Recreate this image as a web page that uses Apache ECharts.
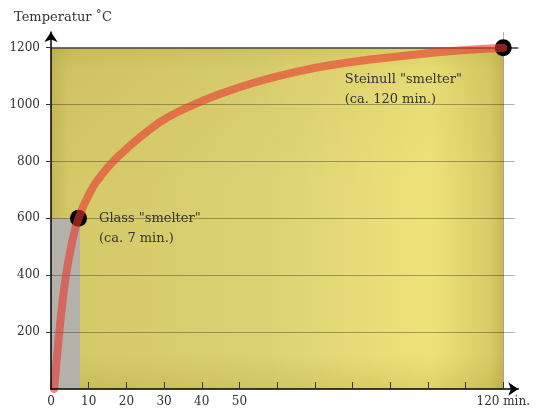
<!DOCTYPE html>
<html>
<head>
<meta charset="utf-8">
<script src="https://cdn.jsdelivr.net/npm/echarts@6/dist/echarts.min.js"></script>
<style>
    html, body { margin: 0; background: #fff; }
    #chart { width: 533px; height: 409px; }
</style>
</head>
<body>
<div id="chart"></div>
<script>
// temperaturkurve: minutter og grader
const curveMin = [0.8, 1.5, 2.2, 3.0, 4.0, 5.5, 7.3, 10.5, 13, 16.3, 20.5, 26, 31, 37.9, 45, 54.7, 65, 75, 86, 97, 108, 120];
const curveTemp = [0, 100, 200, 300, 400, 510, 600, 695, 745, 797, 850, 910, 955, 1000, 1038, 1080, 1115, 1140, 1160, 1176, 1190, 1200];

// smeltepunkter
const meltMin = [7.3, 120];
const meltTemp = [600, 1200];
const meltText = ['Glass "smelter"\n(ca. 7 min.)', 'Steinull "smelter"\n(ca. 120 min.)'];

// akser
const xLabels = [0, 10, 20, 30, 40, 50, 120];
const xTicks = [10, 20, 30, 40, 50, 60, 70, 80, 90, 100, 110, 120];
const yTicks = [200, 400, 600, 800, 1000, 1200];
const glassZone = [7.7, 600];
const plotEnd = [120, 1200];

(function () {
    let myChart = echarts.init(document.getElementById('chart'));
    let font = 'DejaVu Serif';

    let curve = curveMin.map((m, i) => [m, curveTemp[i]]);
    let labelPos = [
        { position: [29, -1] },
        { position: [-150, 30] }
    ];
    let dots = meltMin.map((m, i) => ({
        value: [m, meltTemp[i]],
        label: Object.assign({
            show: true,
            formatter: meltText[i],
            align: 'left',
            verticalAlign: 'top',
            fontFamily: font,
            fontSize: 13,
            lineHeight: 20,
            color: '#333'
        }, labelPos[i])
    }));

    let gridLines = yTicks.filter(v => v < plotEnd[1]).map(v => [
        { coord: [0, v] }, { coord: [123, v] }
    ]);
    gridLines.push([{ coord: [0, plotEnd[1]], lineStyle: { color: '#444', width: 1.5 } }, { coord: [124, plotEnd[1]] }]);
    gridLines.push([{ coord: [plotEnd[0], 0] }, { coord: [plotEnd[0], 1255] }]);

    let option = {
        animation: false,
        title: {
            text: 'Temperatur ˚C',
            left: 9,
            top: 6,
            textStyle: { fontFamily: font, fontSize: 13, fontWeight: 'normal', color: '#333' }
        },
        grid: { left: 51, right: 12.5, top: 32, bottom: 20 },
        xAxis: {
            type: 'value',
            min: 0,
            max: 124,
            z: 10,
            splitLine: { show: false },
            axisLine: {
                lineStyle: { color: '#000', width: 1.5 },
                symbol: ['none', 'arrow'],
                symbolSize: [10, 10]
            },
            axisTick: {
                inside: true,
                length: 7,
                customValues: xTicks,
                lineStyle: { color: '#333' }
            },
            axisLabel: {
                customValues: xLabels,
                margin: 7,
                fontFamily: font,
                fontSize: 12,
                color: '#333',
                formatter: v => v === 120 ? '120 min.' : String(v)
            }
        },
        yAxis: {
            type: 'value',
            min: 0,
            max: 1255,
            z: 10,
            splitLine: { show: false },
            axisLine: {
                show: true,
                lineStyle: { color: '#000', width: 1.5 },
                symbol: ['none', 'arrow'],
                symbolSize: [10, 10]
            },
            axisTick: {
                show: true,
                length: 5,
                customValues: yTicks,
                lineStyle: { color: '#333' }
            },
            axisLabel: {
                customValues: yTicks,
                margin: 11,
                fontFamily: font,
                fontSize: 12,
                color: '#333',
                formatter: v => String(v)
            }
        },
        series: [
            {
                type: 'line',
                data: [],
                silent: true,
                markArea: {
                    silent: true,
                    z: 1,
                    data: [
                        [{
                            coord: [0, 0],
                            itemStyle: {
                                color: {
                                    type: 'linear', x: 0, y: 0, x2: 1, y2: 0,
                                    colorStops: [
                                        { offset: 0, color: '#c6b856' },
                                        { offset: 0.04, color: '#d4c867' },
                                        { offset: 0.45, color: '#dcd173' },
                                        { offset: 0.84, color: '#ede27a' },
                                        { offset: 0.97, color: '#d8cc68' },
                                        { offset: 1, color: '#c6b956' }
                                    ]
                                }
                            }
                        }, { coord: plotEnd }],
                        [{
                            coord: [0, 0],
                            itemStyle: {
                                color: {
                                    type: 'linear', x: 0, y: 0, x2: 0, y2: 1,
                                    colorStops: [
                                        { offset: 0, color: 'rgba(150,135,30,0.22)' },
                                        { offset: 0.06, color: 'rgba(150,135,30,0.08)' },
                                        { offset: 0.4, color: 'rgba(150,135,30,0)' },
                                        { offset: 0.9, color: 'rgba(150,135,30,0)' },
                                        { offset: 1, color: 'rgba(150,135,30,0.18)' }
                                    ]
                                }
                            }
                        }, { coord: plotEnd }]
                    ]
                }
            },
            {
                type: 'line',
                data: [],
                silent: true,
                markArea: {
                    silent: true,
                    z: 2,
                    itemStyle: { color: '#b3b1aa' },
                    data: [[{ coord: [0, 0] }, { coord: glassZone }]]
                }
            },
            {
                type: 'line',
                data: [],
                silent: true,
                markLine: {
                    silent: true,
                    z: 3,
                    symbol: 'none',
                    label: { show: false },
                    lineStyle: { color: 'rgba(0,0,0,0.3)', width: 1, type: 'solid' },
                    data: gridLines
                }
            },
            {
                type: 'scatter',
                z: 4,
                symbolSize: 17,
                itemStyle: { color: '#000', opacity: 1 },
                data: dots
            },
            {
                type: 'line',
                z: 5,
                data: curve,
                smooth: 0.5,
                showSymbol: false,
                lineStyle: { color: 'rgba(233,55,49,0.6)', width: 8, cap: 'round' }
            }
        ]
    };

    myChart.setOption(option);
})();
</script>
</body>
</html>
